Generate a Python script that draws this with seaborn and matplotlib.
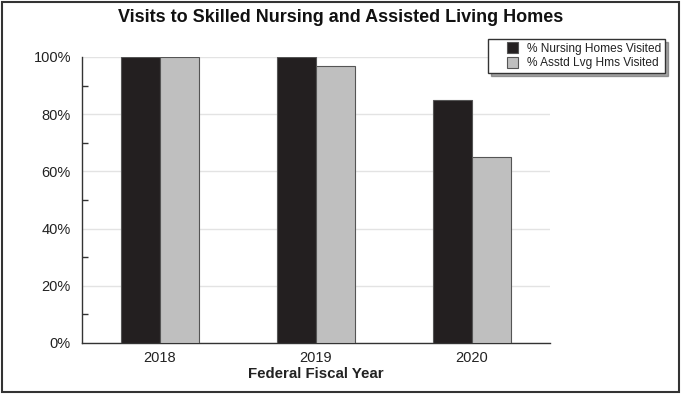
import matplotlib
matplotlib.use("Agg")
import matplotlib.pyplot as plt
from matplotlib.patches import Rectangle, Patch
from matplotlib.legend_handler import HandlerPatch
from matplotlib.ticker import MultipleLocator, FixedLocator, FuncFormatter
import seaborn as sns
import pandas as pd

years = ["2018", "2019", "2020"]
series_names = ["% Nursing Homes Visited", "% Asstd Lvg Hms Visited"]
nursing_homes = [100, 100, 85]
assisted_living = [100, 97, 65]
colors = ["#231f20", "#bfbfbf"]

df = pd.DataFrame({
    "year": years * 2,
    "series": [series_names[0]] * 3 + [series_names[1]] * 3,
    "pct": nursing_homes + assisted_living,
})

sns.set_theme(style="white")
plt.rcParams["font.family"] = ["Liberation Sans", "DejaVu Sans"]

fig = plt.figure(figsize=(6.81, 3.94), dpi=100)
ax = fig.add_axes([82 / 681, 1 - 343 / 394, 468 / 681, 286 / 394])

sns.barplot(data=df, x="year", y="pct", hue="series", palette=colors,
            width=0.5, edgecolor="#555555", linewidth=0.8, saturation=1,
            ax=ax, legend=True, zorder=3)

ax.set_xlim(-0.5, 2.5)
ax.set_ylim(0, 100)
ax.yaxis.set_major_locator(MultipleLocator(20))
ax.yaxis.set_minor_locator(MultipleLocator(10))
ax.yaxis.set_major_formatter(FuncFormatter(lambda v, p: f"{int(v)}%"))
ax.grid(axis="y", color="#e3e3e3", linewidth=1, zorder=0)
ax.set_axisbelow(True)

# category labels without ticks, separator ticks between groups
ax.tick_params(axis="x", which="major", length=0, labelsize=10.5, colors="#222222", pad=6)
ax.xaxis.set_minor_locator(FixedLocator([0.5, 1.5, 2.5]))
ax.tick_params(axis="x", which="minor", direction="in", length=5, width=1, color="#333333")
ax.tick_params(axis="y", which="major", direction="in", length=5, width=1,
               color="#333333", labelsize=10.5, labelcolor="#222222", pad=8)
ax.tick_params(axis="y", which="minor", direction="in", length=4, width=1, color="#333333", left=True)

for s in ("top", "right"):
    ax.spines[s].set_visible(False)
for s in ("left", "bottom"):
    ax.spines[s].set_color("#333333")
    ax.spines[s].set_linewidth(1)

ax.set_ylabel("")
ax.set_xlabel("Federal Fiscal Year", fontsize=10.8, fontweight="bold", color="#222222", labelpad=1)

fig.suptitle("Visits to Skilled Nursing and Assisted Living Homes",
             fontsize=13, fontweight="bold", color="#111111", y=1 - 18 / 394, va="center")


def square_key(legend, orig_handle, xdescent, ydescent, width, height, fontsize):
    # square swatch pushed to the right side of the handle box
    s = height * 1.05
    return Rectangle((width - s - xdescent, -ydescent - (s - height) / 2), s, s)


leg = ax.legend(loc="upper right", bbox_to_anchor=(665 / 681, 1 - 39 / 394),
                bbox_transform=fig.transFigure, frameon=True, fontsize=8.6,
                handlelength=2.2, handleheight=0.95, handletextpad=0.8,
                borderpad=0.3, labelspacing=0.2, fancybox=False, shadow=True,
                borderaxespad=0,
                handler_map={Patch: HandlerPatch(patch_func=square_key)})
leg.get_frame().set_edgecolor("#333333")
leg.get_frame().set_linewidth(1)
for t in leg.get_texts():
    t.set_color("#222222")

fig.patches.append(Rectangle((2 / 681, 2 / 394), 677 / 681, 390 / 394,
                             transform=fig.transFigure, fill=False,
                             edgecolor="#333333", linewidth=1.5))

fig.savefig("out.png", dpi=100)
